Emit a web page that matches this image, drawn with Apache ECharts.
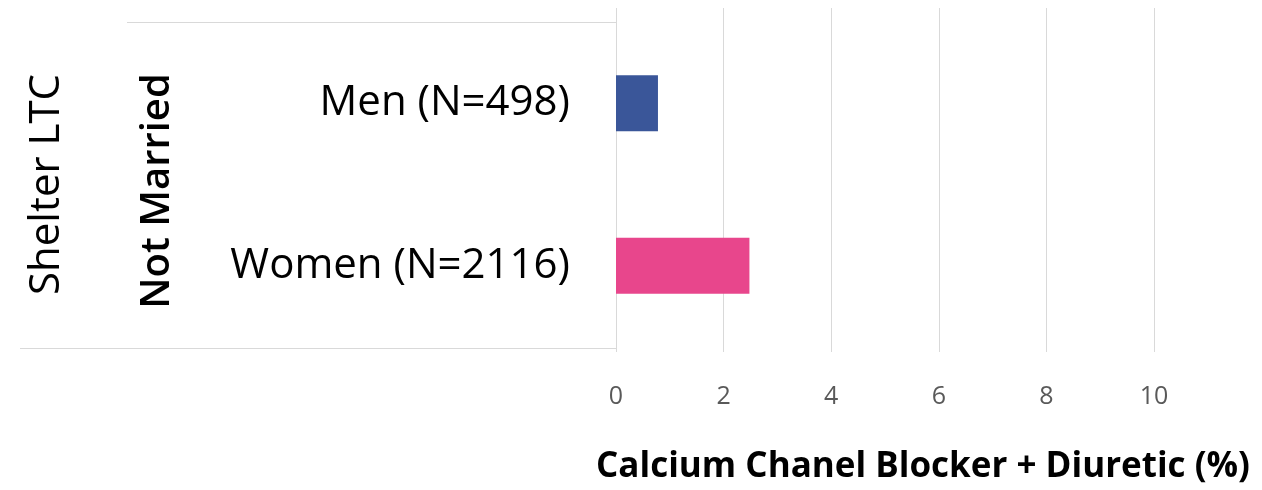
<!DOCTYPE html>
<html>
<head>
<meta charset="utf-8">
<script src="https://cdn.jsdelivr.net/npm/echarts@6/dist/echarts.min.js"></script>
<style>html,body{margin:0;padding:0;background:#fff}#c{width:1262px;height:490px}</style>
</head>
<body>
<div id="c"></div>
<script>
const categories = ['Men (N=498)', 'Women (N=2116)'];
const values = [0.78, 2.48];
const barColors = ['#3A5699', '#E8468C'];
const groupLabel = 'Not Married';
const outerLabel = 'Shelter LTC';
const xTicks = [0, 2, 4, 6, 8, 10];
const xTitle = 'Calcium Chanel Blocker + Diuretic (%)';

const chart = echarts.init(document.getElementById('c'), null, {renderer: 'canvas'});
const font = 'Open Sans';
chart.setOption({
  animation: false,
  grid: [
    {left: 616, right: 108, top: 22, bottom: 142},
    {left: 616, right: 108, top: 8, bottom: 138}
  ],
  xAxis: [
    {
      gridIndex: 0, type: 'value', min: xTicks[0], max: xTicks[xTicks.length - 1], interval: 2,
      axisLine: {show: false}, axisTick: {show: false}, splitLine: {show: false},
      axisLabel: {color: '#595959', fontSize: 25, fontFamily: font, margin: 37},
      name: xTitle, nameLocation: 'middle', nameGap: 103,
      nameTextStyle: {color: '#000', fontSize: 35, fontWeight: 'bold', fontFamily: font, padding: [0, 0, 0, 76]}
    },
    {
      gridIndex: 1, type: 'value', min: xTicks[0], max: xTicks[xTicks.length - 1], interval: 2,
      axisLine: {show: false}, axisTick: {show: false}, axisLabel: {show: false},
      splitLine: {show: true, lineStyle: {color: '#d9d9d9', width: 1}}
    }
  ],
  yAxis: [
    {
      gridIndex: 0, type: 'category', data: categories, inverse: true,
      axisLine: {show: false}, axisTick: {show: false},
      axisLabel: {color: '#000', fontSize: 42, fontFamily: font, margin: 46},
      name: groupLabel, nameLocation: 'middle', nameRotate: 90, nameGap: 438,
      nameTextStyle: {color: '#000', fontSize: 40, fontWeight: 600, fontFamily: font, padding: [0, 13, 0, 0]}
    },
    {
      gridIndex: 0, type: 'category', data: categories, inverse: true, position: 'left',
      axisLine: {show: false}, axisTick: {show: false}, axisLabel: {show: false},
      name: outerLabel, nameLocation: 'middle', nameRotate: 90, nameGap: 548,
      nameTextStyle: {color: '#000', fontSize: 42, fontFamily: font}
    },
    {
      gridIndex: 1, type: 'category', data: categories, show: false
    }
  ],
  series: [{
    type: 'bar', xAxisIndex: 0, yAxisIndex: 0,
    data: values.map((v, i) => ({value: v, itemStyle: {color: barColors[i]}})),
    barWidth: 56
  }],
  graphic: [
    {type: 'line', shape: {x1: 127, y1: 22.5, x2: 616, y2: 22.5}, style: {stroke: '#d9d9d9', lineWidth: 1}},
    {type: 'line', shape: {x1: 20, y1: 348.5, x2: 616, y2: 348.5}, style: {stroke: '#d9d9d9', lineWidth: 1}}
  ]
});
</script>
</body>
</html>
